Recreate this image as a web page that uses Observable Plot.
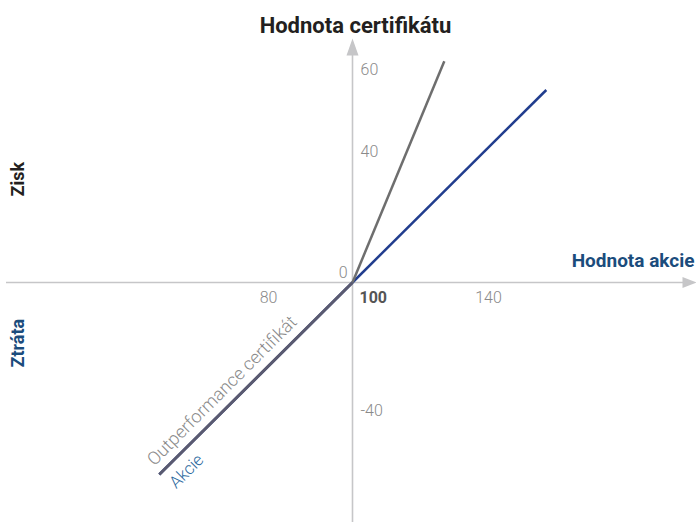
<!DOCTYPE html>
<html><head><meta charset="utf-8">
<script src="https://cdn.jsdelivr.net/npm/d3@7"></script>
<script src="https://cdn.jsdelivr.net/npm/@observablehq/plot@0.6"></script>
<style>body{margin:0;background:#fff}</style>
</head><body><div id="chart"></div>
<script>
// Tick labels
const xTicks = [80, 100, 140];
const yTicks = [60, 40, 0, -40];
// Series (stock value -> value of the position)
const akcieX = [54, 100, 157];
const akcieY = [-60, 0, 55];
const certX = [54, 100, 127];
const certY = [-60, 0, 62];
const seriesNames = ["Akcie", "Outperformance certifikát"];
// Titles
const yTitle = "Hodnota certifikátu";
const xTitle = "Hodnota akcie";
const gainLabel = "Zisk";
const lossLabel = "Ztráta";

const AXIS = "#c6c6c8", GRAY = "#6e6e6e", BLUE = "#213d8e", OVER = "#5a5a70";
const TICK = "#8a8a8a", DARKBLUE = "#1b4c7c";

const segs = (X, Y, name) => X.slice(1).map((x, i) => ({x1: X[i], y1: Y[i], x2: x, y2: Y[i + 1], name, part: i}));
const akcieSegs = segs(akcieX, akcieY, seriesNames[0]);
const certSegs = segs(certX, certY, seriesNames[1]);

const arrowUp = {draw(ctx) { ctx.moveTo(0, 0); ctx.lineTo(6, 17); ctx.lineTo(-6, 17); ctx.closePath(); }};
const arrowRight = {draw(ctx) { ctx.moveTo(0, 0); ctx.lineTo(-14, -5.5); ctx.lineTo(-14, 5.5); ctx.closePath(); }};

const chart = Plot.plot({
  width: 696, height: 525,
  margin: 0,
  style: {fontFamily: "Roboto, 'Noto Sans', sans-serif", background: "#fff"},
  x: {type: "linear", domain: [80, 100, 140], range: [268, 352, 488], axis: null},
  y: {type: "linear", domain: [-40, 0, 40, 60], range: [410, 282, 151, 69], axis: null},
  marks: [
    Plot.ruleY([0], {stroke: AXIS, strokeWidth: 1.6, insetLeft: 6, insetRight: 13}),
    Plot.ruleX([100], {stroke: AXIS, strokeWidth: 1.6, insetTop: 54, insetBottom: 3}),
    Plot.dot([100], {x: d => d, frameAnchor: "top", dy: 38, symbol: arrowUp, fill: AXIS, stroke: "none"}),
    Plot.dot([0], {y: d => d, frameAnchor: "right", symbol: arrowRight, fill: AXIS, stroke: "none"}),
    Plot.link(akcieSegs, {x1: "x1", y1: "y1", x2: "x2", y2: "y2", stroke: BLUE, strokeWidth: 2.5}),
    Plot.link(certSegs, {x1: "x1", y1: "y1", x2: "x2", y2: "y2", stroke: d => d.part === 0 ? OVER : GRAY, strokeWidth: d => d.part === 0 ? 3 : 2.5}),
    // x tick labels
    Plot.text(xTicks.filter(d => d !== 100), {x: d => d, y: 0, dy: 15, fill: TICK, fontSize: 16, fontWeight: 300}),
    Plot.text(xTicks.filter(d => d === 100), {x: d => d, y: 0, dx: 7, dy: 15, textAnchor: "start", fill: "#555", fontSize: 16, fontWeight: "bold"}),
    // y tick labels
    Plot.text(yTicks.filter(d => d !== 0), {x: 100, y: d => d, dx: 8, textAnchor: "start", fill: TICK, fontSize: 16, fontWeight: 300}),
    Plot.text(yTicks.filter(d => d === 0), {x: 100, y: d => d, dx: -5, dy: -10, textAnchor: "end", fill: TICK, fontSize: 16, fontWeight: 300}),
    // series labels
    Plot.text([seriesNames[1]], {x: certX[0], y: certY[0], rotate: -45, textAnchor: "start", dx: -9, dy: -12, fill: TICK, fontSize: 18, fontWeight: 300}),
    Plot.text([seriesNames[0]], {x: akcieX[0], y: akcieY[0], rotate: -45, textAnchor: "start", dx: 13, dy: 11, fill: "#2d6aa0", fontSize: 17, fontWeight: 300}),
    // titles
    Plot.text([yTitle], {x: 100, frameAnchor: "top", dx: 3, dy: 17, fontSize: 22, fontWeight: "bold", fill: "#231f20"}),
    Plot.text([xTitle], {frameAnchor: "right", y: 0, dx: -2, dy: -22, textAnchor: "end", fontSize: 19, fontWeight: "bold", fill: DARKBLUE}),
    Plot.text([gainLabel], {frameAnchor: "left", y: 0, dx: 18, dy: -86, rotate: -90, fontSize: 18, fontWeight: "bold", fill: "#231f20"}),
    Plot.text([lossLabel], {frameAnchor: "left", y: 0, dx: 18, dy: 85, rotate: -90, fontSize: 18, fontWeight: "bold", fill: DARKBLUE})
  ]
});
document.getElementById("chart").appendChild(chart);
</script>
</body></html>
